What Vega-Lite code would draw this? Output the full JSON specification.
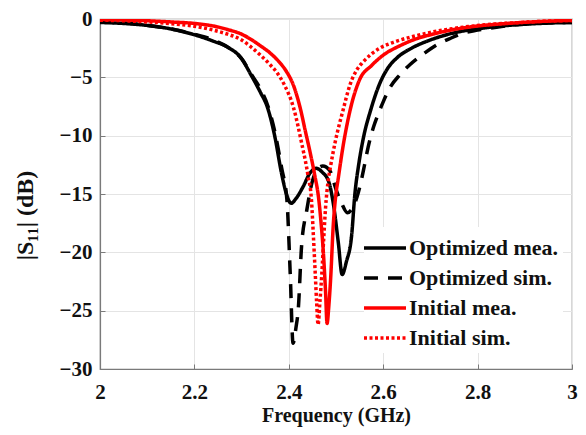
{
  "$schema": "https://vega.github.io/schema/vega-lite/v6.json",
  "width": 472,
  "height": 350,
  "autosize": {"type": "none"},
  "padding": {"left": 100, "top": 19, "right": 14, "bottom": 66},
  "background": "white",
  "config": {
    "view": {"stroke": "#7a7a7a", "strokeWidth": 1.2},
    "font": "Liberation Serif",
    "axis": {
      "labelFont": "Liberation Serif",
      "labelFontWeight": "bold",
      "labelFontSize": 21,
      "labelColor": "#111111",
      "titleFont": "Liberation Serif",
      "titleFontWeight": "bold",
      "titleFontSize": 20,
      "titleColor": "#111111",
      "domainColor": "#7a7a7a",
      "domainWidth": 1.2,
      "tickColor": "#7a7a7a",
      "tickSize": -5,
      "gridColor": "#e4e4e4",
      "gridWidth": 1
    },
    "legend": {
      "orient": "none",
      "legendX": 264,
      "legendY": 208,
      "padding": 4,
      "fillColor": "white",
      "strokeColor": null,
      "symbolType": "M-1.4,0H1.4",
      "symbolSize": 900,
      "symbolStrokeWidth": 3.5,
      "labelFont": "Liberation Serif",
      "labelFontWeight": "bold",
      "labelFontSize": 22,
      "labelColor": "#111111",
      "labelOffset": 7,
      "rowPadding": 2,
      "title": null
    }
  },
  "data": {
    "values": [
      {"f": 2.00, "s": -0.30, "series": "Optimized mea."},
      {"f": 2.05, "s": -0.38, "series": "Optimized mea."},
      {"f": 2.10, "s": -0.55, "series": "Optimized mea."},
      {"f": 2.15, "s": -0.85, "series": "Optimized mea."},
      {"f": 2.20, "s": -1.35, "series": "Optimized mea."},
      {"f": 2.24, "s": -1.9, "series": "Optimized mea."},
      {"f": 2.27, "s": -2.4, "series": "Optimized mea."},
      {"f": 2.30, "s": -3.4, "series": "Optimized mea."},
      {"f": 2.32, "s": -4.8, "series": "Optimized mea."},
      {"f": 2.34, "s": -6.3, "series": "Optimized mea."},
      {"f": 2.355, "s": -7.6, "series": "Optimized mea."},
      {"f": 2.37, "s": -10.0, "series": "Optimized mea."},
      {"f": 2.385, "s": -13.3, "series": "Optimized mea."},
      {"f": 2.395, "s": -15.0, "series": "Optimized mea."},
      {"f": 2.405, "s": -15.8, "series": "Optimized mea."},
      {"f": 2.415, "s": -15.4, "series": "Optimized mea."},
      {"f": 2.43, "s": -14.4, "series": "Optimized mea."},
      {"f": 2.445, "s": -13.2, "series": "Optimized mea."},
      {"f": 2.458, "s": -12.8, "series": "Optimized mea."},
      {"f": 2.47, "s": -13.1, "series": "Optimized mea."},
      {"f": 2.485, "s": -14.0, "series": "Optimized mea."},
      {"f": 2.495, "s": -16.0, "series": "Optimized mea."},
      {"f": 2.505, "s": -19.2, "series": "Optimized mea."},
      {"f": 2.513, "s": -21.9, "series": "Optimized mea."},
      {"f": 2.522, "s": -20.8, "series": "Optimized mea."},
      {"f": 2.533, "s": -18.6, "series": "Optimized mea."},
      {"f": 2.540, "s": -15.0, "series": "Optimized mea."},
      {"f": 2.548, "s": -12.5, "series": "Optimized mea."},
      {"f": 2.557, "s": -10.4, "series": "Optimized mea."},
      {"f": 2.575, "s": -7.6, "series": "Optimized mea."},
      {"f": 2.593, "s": -5.5, "series": "Optimized mea."},
      {"f": 2.61, "s": -4.2, "series": "Optimized mea."},
      {"f": 2.63, "s": -3.3, "series": "Optimized mea."},
      {"f": 2.66, "s": -2.5, "series": "Optimized mea."},
      {"f": 2.69, "s": -1.95, "series": "Optimized mea."},
      {"f": 2.73, "s": -1.4, "series": "Optimized mea."},
      {"f": 2.76, "s": -1.1, "series": "Optimized mea."},
      {"f": 2.80, "s": -0.85, "series": "Optimized mea."},
      {"f": 2.85, "s": -0.6, "series": "Optimized mea."},
      {"f": 2.90, "s": -0.45, "series": "Optimized mea."},
      {"f": 2.95, "s": -0.35, "series": "Optimized mea."},
      {"f": 3.00, "s": -0.3, "series": "Optimized mea."},

      {"f": 2.00, "s": -0.25, "series": "Optimized sim."},
      {"f": 2.05, "s": -0.35, "series": "Optimized sim."},
      {"f": 2.10, "s": -0.55, "series": "Optimized sim."},
      {"f": 2.15, "s": -0.85, "series": "Optimized sim."},
      {"f": 2.20, "s": -1.3, "series": "Optimized sim."},
      {"f": 2.24, "s": -1.8, "series": "Optimized sim."},
      {"f": 2.27, "s": -2.4, "series": "Optimized sim."},
      {"f": 2.30, "s": -3.4, "series": "Optimized sim."},
      {"f": 2.32, "s": -4.7, "series": "Optimized sim."},
      {"f": 2.34, "s": -6.0, "series": "Optimized sim."},
      {"f": 2.356, "s": -7.5, "series": "Optimized sim."},
      {"f": 2.37, "s": -9.6, "series": "Optimized sim."},
      {"f": 2.385, "s": -12.8, "series": "Optimized sim."},
      {"f": 2.396, "s": -15.5, "series": "Optimized sim."},
      {"f": 2.403, "s": -21.8, "series": "Optimized sim."},
      {"f": 2.409, "s": -27.8, "series": "Optimized sim."},
      {"f": 2.415, "s": -26.5, "series": "Optimized sim."},
      {"f": 2.42, "s": -24.9, "series": "Optimized sim."},
      {"f": 2.427, "s": -19.5, "series": "Optimized sim."},
      {"f": 2.438, "s": -16.4, "series": "Optimized sim."},
      {"f": 2.45, "s": -13.9, "series": "Optimized sim."},
      {"f": 2.462, "s": -12.8, "series": "Optimized sim."},
      {"f": 2.472, "s": -12.6, "series": "Optimized sim."},
      {"f": 2.487, "s": -13.0, "series": "Optimized sim."},
      {"f": 2.50, "s": -14.6, "series": "Optimized sim."},
      {"f": 2.512, "s": -15.8, "series": "Optimized sim."},
      {"f": 2.524, "s": -16.6, "series": "Optimized sim."},
      {"f": 2.535, "s": -16.2, "series": "Optimized sim."},
      {"f": 2.545, "s": -15.2, "series": "Optimized sim."},
      {"f": 2.551, "s": -14.3, "series": "Optimized sim."},
      {"f": 2.56, "s": -12.6, "series": "Optimized sim."},
      {"f": 2.568, "s": -11.0, "series": "Optimized sim."},
      {"f": 2.58, "s": -9.2, "series": "Optimized sim."},
      {"f": 2.589, "s": -8.2, "series": "Optimized sim."},
      {"f": 2.60, "s": -7.1, "series": "Optimized sim."},
      {"f": 2.614, "s": -5.9, "series": "Optimized sim."},
      {"f": 2.635, "s": -4.8, "series": "Optimized sim."},
      {"f": 2.657, "s": -3.9, "series": "Optimized sim."},
      {"f": 2.685, "s": -3.0, "series": "Optimized sim."},
      {"f": 2.714, "s": -2.2, "series": "Optimized sim."},
      {"f": 2.74, "s": -1.7, "series": "Optimized sim."},
      {"f": 2.77, "s": -1.2, "series": "Optimized sim."},
      {"f": 2.80, "s": -0.95, "series": "Optimized sim."},
      {"f": 2.84, "s": -0.7, "series": "Optimized sim."},
      {"f": 2.88, "s": -0.5, "series": "Optimized sim."},
      {"f": 2.92, "s": -0.38, "series": "Optimized sim."},
      {"f": 2.96, "s": -0.32, "series": "Optimized sim."},
      {"f": 3.00, "s": -0.3, "series": "Optimized sim."},

      {"f": 2.00, "s": -0.05, "series": "Initial mea."},
      {"f": 2.05, "s": -0.08, "series": "Initial mea."},
      {"f": 2.10, "s": -0.15, "series": "Initial mea."},
      {"f": 2.15, "s": -0.25, "series": "Initial mea."},
      {"f": 2.20, "s": -0.38, "series": "Initial mea."},
      {"f": 2.24, "s": -0.6, "series": "Initial mea."},
      {"f": 2.27, "s": -0.9, "series": "Initial mea."},
      {"f": 2.30, "s": -1.3, "series": "Initial mea."},
      {"f": 2.32, "s": -1.75, "series": "Initial mea."},
      {"f": 2.34, "s": -2.3, "series": "Initial mea."},
      {"f": 2.36, "s": -2.9, "series": "Initial mea."},
      {"f": 2.38, "s": -3.7, "series": "Initial mea."},
      {"f": 2.395, "s": -4.5, "series": "Initial mea."},
      {"f": 2.41, "s": -5.7, "series": "Initial mea."},
      {"f": 2.424, "s": -7.6, "series": "Initial mea."},
      {"f": 2.435, "s": -9.6, "series": "Initial mea."},
      {"f": 2.445, "s": -11.4, "series": "Initial mea."},
      {"f": 2.455, "s": -13.4, "series": "Initial mea."},
      {"f": 2.463, "s": -15.3, "series": "Initial mea."},
      {"f": 2.468, "s": -17.3, "series": "Initial mea."},
      {"f": 2.474, "s": -20.5, "series": "Initial mea."},
      {"f": 2.478, "s": -23.5, "series": "Initial mea."},
      {"f": 2.481, "s": -26.1, "series": "Initial mea."},
      {"f": 2.485, "s": -24.5, "series": "Initial mea."},
      {"f": 2.489, "s": -22.0, "series": "Initial mea."},
      {"f": 2.494, "s": -17.8, "series": "Initial mea."},
      {"f": 2.499, "s": -15.3, "series": "Initial mea."},
      {"f": 2.505, "s": -13.6, "series": "Initial mea."},
      {"f": 2.515, "s": -10.9, "series": "Initial mea."},
      {"f": 2.53, "s": -7.8, "series": "Initial mea."},
      {"f": 2.55, "s": -5.2, "series": "Initial mea."},
      {"f": 2.575, "s": -4.0, "series": "Initial mea."},
      {"f": 2.60, "s": -3.1, "series": "Initial mea."},
      {"f": 2.635, "s": -2.3, "series": "Initial mea."},
      {"f": 2.67, "s": -1.7, "series": "Initial mea."},
      {"f": 2.71, "s": -1.25, "series": "Initial mea."},
      {"f": 2.75, "s": -0.9, "series": "Initial mea."},
      {"f": 2.80, "s": -0.6, "series": "Initial mea."},
      {"f": 2.85, "s": -0.42, "series": "Initial mea."},
      {"f": 2.90, "s": -0.28, "series": "Initial mea."},
      {"f": 2.95, "s": -0.18, "series": "Initial mea."},
      {"f": 3.00, "s": -0.12, "series": "Initial mea."},

      {"f": 2.00, "s": -0.1, "series": "Initial sim."},
      {"f": 2.05, "s": -0.15, "series": "Initial sim."},
      {"f": 2.10, "s": -0.25, "series": "Initial sim."},
      {"f": 2.15, "s": -0.4, "series": "Initial sim."},
      {"f": 2.20, "s": -0.62, "series": "Initial sim."},
      {"f": 2.24, "s": -0.95, "series": "Initial sim."},
      {"f": 2.27, "s": -1.3, "series": "Initial sim."},
      {"f": 2.30, "s": -1.8, "series": "Initial sim."},
      {"f": 2.32, "s": -2.4, "series": "Initial sim."},
      {"f": 2.34, "s": -3.1, "series": "Initial sim."},
      {"f": 2.36, "s": -3.9, "series": "Initial sim."},
      {"f": 2.375, "s": -4.6, "series": "Initial sim."},
      {"f": 2.39, "s": -5.6, "series": "Initial sim."},
      {"f": 2.41, "s": -7.6, "series": "Initial sim."},
      {"f": 2.427, "s": -10.6, "series": "Initial sim."},
      {"f": 2.441, "s": -13.5, "series": "Initial sim."},
      {"f": 2.448, "s": -15.5, "series": "Initial sim."},
      {"f": 2.452, "s": -18.5, "series": "Initial sim."},
      {"f": 2.456, "s": -21.8, "series": "Initial sim."},
      {"f": 2.459, "s": -24.3, "series": "Initial sim."},
      {"f": 2.462, "s": -26.2, "series": "Initial sim."},
      {"f": 2.466, "s": -24.2, "series": "Initial sim."},
      {"f": 2.470, "s": -21.8, "series": "Initial sim."},
      {"f": 2.474, "s": -18.8, "series": "Initial sim."},
      {"f": 2.478, "s": -16.1, "series": "Initial sim."},
      {"f": 2.483, "s": -14.0, "series": "Initial sim."},
      {"f": 2.489, "s": -12.5, "series": "Initial sim."},
      {"f": 2.498, "s": -10.6, "series": "Initial sim."},
      {"f": 2.515, "s": -7.8, "series": "Initial sim."},
      {"f": 2.53, "s": -5.6, "series": "Initial sim."},
      {"f": 2.545, "s": -4.3, "series": "Initial sim."},
      {"f": 2.557, "s": -3.7, "series": "Initial sim."},
      {"f": 2.575, "s": -3.0, "series": "Initial sim."},
      {"f": 2.593, "s": -2.5, "series": "Initial sim."},
      {"f": 2.625, "s": -1.95, "series": "Initial sim."},
      {"f": 2.663, "s": -1.5, "series": "Initial sim."},
      {"f": 2.70, "s": -1.15, "series": "Initial sim."},
      {"f": 2.735, "s": -0.9, "series": "Initial sim."},
      {"f": 2.78, "s": -0.65, "series": "Initial sim."},
      {"f": 2.83, "s": -0.45, "series": "Initial sim."},
      {"f": 2.90, "s": -0.28, "series": "Initial sim."},
      {"f": 2.95, "s": -0.18, "series": "Initial sim."},
      {"f": 3.00, "s": -0.12, "series": "Initial sim."}
    ]
  },
  "mark": {"type": "line", "strokeWidth": 3.5, "interpolate": "monotone", "clip": true},
  "encoding": {
    "x": {
      "field": "f", "type": "quantitative",
      "scale": {"domain": [2, 3], "nice": false, "zero": false},
      "axis": {
        "values": [2, 2.2, 2.4, 2.6, 2.8, 3], "format": "~g",
        "title": "Frequency (GHz)", "grid": true, "labelPadding": 17,
        "labelFlush": false, "titleBaseline": "alphabetic", "titleY": 52
      }
    },
    "y": {
      "field": "s", "type": "quantitative",
      "scale": {"domain": [-30, 0], "nice": false, "zero": false},
      "axis": {
        "values": [-30, -25, -20, -15, -10, -5, 0],
        "title": "|S₁₁| (dB)", "titleFontSize": 24, "grid": true, "labelPadding": 13,
        "labelFlush": false, "titleBaseline": "alphabetic", "titleX": -68, "titleY": 196
      }
    },
    "color": {
      "field": "series", "type": "nominal",
      "scale": {
        "domain": ["Optimized mea.", "Optimized sim.", "Initial mea.", "Initial sim."],
        "range": ["#000000", "#000000", "#ff0000", "#ff0000"]
      },
      "legend": {"title": null}
    },
    "strokeDash": {
      "field": "series", "type": "nominal",
      "scale": {
        "domain": ["Optimized mea.", "Optimized sim.", "Initial mea.", "Initial sim."],
        "range": [[1, 0], [14, 10], [1, 0], [3, 2.5]]
      },
      "legend": {"title": null}
    }
  }
}
